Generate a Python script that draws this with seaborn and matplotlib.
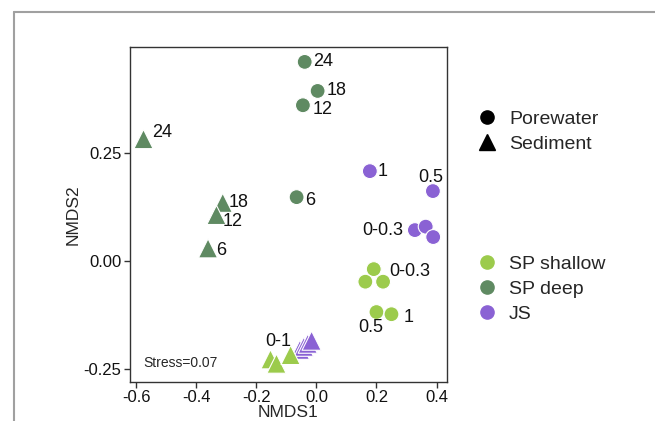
import pandas as pd
import seaborn as sns
import matplotlib.pyplot as plt
from matplotlib.lines import Line2D

# NMDS scores
# SP deep
deep_pw_x = [-0.039, 0.004, -0.045, -0.066]
deep_pw_y = [0.459, 0.392, 0.359, 0.147]
deep_pw_lab = ['24', '18', '12', '6']
deep_sed_x = [-0.576, -0.312, -0.333, -0.361]
deep_sed_y = [0.281, 0.134, 0.106, 0.029]
deep_sed_lab = ['24', '18', '12', '6']
# JS
js_pw_x = [0.178, 0.388, 0.328, 0.364, 0.389]
js_pw_y = [0.207, 0.161, 0.071, 0.079, 0.055]
js_pw_lab = ['1', '0.5', '0-0.3', '', '']
js_sed_x = [-0.055, -0.042, -0.029, -0.016]
js_sed_y = [-0.205, -0.198, -0.191, -0.184]
js_sed_lab = ['', '', '', '']
# SP shallow
sh_pw_x = [0.191, 0.163, 0.222, 0.200, 0.250]
sh_pw_y = [-0.019, -0.048, -0.048, -0.118, -0.123]
sh_pw_lab = ['', '', '0-0.3', '0.5', '1']
sh_sed_x = [-0.153, -0.133, -0.086]
sh_sed_y = [-0.227, -0.237, -0.217]
sh_sed_lab = ['0-1', '', '']

sites = ['SP shallow', 'SP deep', 'JS']
types = ['Porewater', 'Sediment']
colors = {'SP shallow': '#9ccb4c', 'SP deep': '#5f8a62', 'JS': '#8a62d4'}
stress = 'Stress=0.07'

# label offsets in pixels (dx, dy, ha) in the same order as the labels
offsets = {
    ('SP deep', 'Porewater'): [(8, 0, 'left'), (9, 0, 'left'), (10, -4, 'left'), (9, -3, 'left')],
    ('SP deep', 'Sediment'): [(9, 7, 'left'), (6, 0, 'left'), (6, -7, 'left'), (8, -2, 'left')],
    ('JS', 'Porewater'): [(8, 0, 'left'), (-2, 14, 'center'), (-12, 0, 'right')],
    ('SP shallow', 'Porewater'): [None, None, (6, 10, 'left'), (-6, -15, 'center'), (12, -3, 'left')],
    ('SP shallow', 'Sediment'): [(8, 18, 'center')],
}

parts = [
    ('SP deep', 'Porewater', deep_pw_x, deep_pw_y, deep_pw_lab),
    ('SP deep', 'Sediment', deep_sed_x, deep_sed_y, deep_sed_lab),
    ('JS', 'Porewater', js_pw_x, js_pw_y, js_pw_lab),
    ('JS', 'Sediment', js_sed_x, js_sed_y, js_sed_lab),
    ('SP shallow', 'Porewater', sh_pw_x, sh_pw_y, sh_pw_lab),
    ('SP shallow', 'Sediment', sh_sed_x, sh_sed_y, sh_sed_lab),
]
frames = []
for site, typ, xs, ys, labs in parts:
    frames.append(pd.DataFrame({'NMDS1': xs, 'NMDS2': ys, 'site': site,
                                'type': typ, 'label': labs}))
df = pd.concat(frames, ignore_index=True)

sns.set_theme(style='ticks')
plt.rcParams['font.family'] = ['Liberation Sans', 'DejaVu Sans']
plt.rcParams['axes.unicode_minus'] = False

fig = plt.figure(figsize=(6.55, 4.21), dpi=100)
ax = fig.add_axes([0.198, 0.093, 0.484, 0.795])

sns.scatterplot(data=df, x='NMDS1', y='NMDS2', hue='site', style='type', size='type',
                palette=colors, markers={'Porewater': 'o', 'Sediment': '^'},
                sizes={'Porewater': 115, 'Sediment': 190},
                edgecolor='white', linewidth=0.8, legend=False, ax=ax)

for site, typ, xs, ys, labs in parts:
    offs = offsets.get((site, typ), [])
    for i, lab in enumerate(labs):
        if not lab:
            continue
        dx, dy, ha = offs[i]
        ax.annotate(lab, (xs[i], ys[i]), xytext=(dx, dy), textcoords='offset pixels',
                    ha=ha, va='center', fontsize=13, color='#111111')

ax.text(-0.577, -0.235, stress, fontsize=10, va='center', ha='left')

ax.set_xlim(-0.622, 0.434)
ax.set_ylim(-0.279, 0.493)
ax.set_xticks([-0.6, -0.4, -0.2, 0.0, 0.2, 0.4])
ax.set_yticks([-0.25, 0.0, 0.25])
ax.set_yticklabels(['-0.25', '0.00', '0.25'])
ax.tick_params(labelsize=12, length=4, width=1, color='#333333', labelcolor='#111111', pad=2)
ax.set_xlabel('NMDS1', fontsize=12.5, labelpad=0)
ax.set_ylabel('NMDS2', fontsize=12.5, labelpad=2)
for sp in ax.spines.values():
    sp.set_visible(True)
    sp.set_color('#333333')
    sp.set_linewidth(1.0)

shape_handles = [
    Line2D([], [], marker='o', color='black', linestyle='', markersize=9.5, label='Porewater'),
    Line2D([], [], marker='^', color='black', linestyle='', markersize=11, label='Sediment'),
]
color_handles = [
    Line2D([], [], marker='o', color=colors[s], linestyle='', markersize=9.5, label=s)
    for s in sites
]
leg_kw = dict(frameon=False, fontsize=14, handlelength=0.9, handletextpad=0.7,
              labelspacing=0.38, borderpad=0, borderaxespad=0, loc='upper left')
fig.legend(handles=shape_handles, bbox_to_anchor=(478 / 655, 1 - 110 / 421), **leg_kw)
fig.legend(handles=color_handles, bbox_to_anchor=(478 / 655, 1 - 255 / 421), **leg_kw)

# grey frame lines of the original panel
fig.add_artist(Line2D([14 / 655, 1], [1 - 12 / 421, 1 - 12 / 421],
                      transform=fig.transFigure, color='#a0a0a0', lw=1.5))
fig.add_artist(Line2D([14 / 655, 14 / 655], [0, 1 - 12 / 421],
                      transform=fig.transFigure, color='#a0a0a0', lw=1.5))

fig.savefig('out.png', dpi=100)
